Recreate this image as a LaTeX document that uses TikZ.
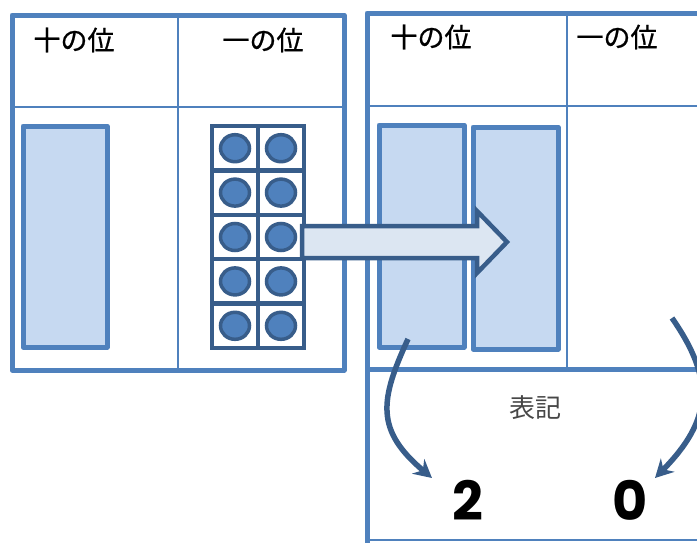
\documentclass[tikz,border=0pt]{standalone}
\usepackage{fontspec}
\setmainfont{Noto Sans CJK JP}
\newfontfamily\hdrfont[FakeBold=0.8]{Noto Sans CJK JP}
\newfontfamily\digitfont{Poppins}
\usetikzlibrary{arrows.meta,shapes.geometric}
\definecolor{midblue}{HTML}{4F81BD}
\definecolor{darkblue}{HTML}{385D8A}
\definecolor{barfill}{HTML}{C6D9F1}
\definecolor{arrowfill}{HTML}{DCE6F2}
\tikzset{
  tablebox/.style={draw=midblue,line width=5pt,line join=round},
  thinline/.style={draw=midblue,line width=2pt},
  tenbar/.style={draw=midblue,fill=barfill,line width=5pt,line join=round,rectangle,inner sep=0pt},
  unitcell/.style={draw=darkblue,fill=white,line width=4.5pt,rectangle,inner sep=0pt,minimum width=46pt,minimum height=44.4pt},
  unitdot/.style={draw=darkblue,fill=midblue,line width=3.5pt,ellipse,inner sep=0pt,minimum width=29pt,minimum height=27pt},
  header/.style={font=\hdrfont\fontsize{27}{29}\selectfont,text=black,inner sep=0pt},
  curvearrow/.style={draw=darkblue,line width=5.5pt,-{Stealth[length=18pt,width=19pt,inset=6pt]}},
}
\begin{document}
\begin{tikzpicture}[x=1pt,y=-1pt]
\useasboundingbox (0,0) rectangle (697,542);
\clip (0,0) rectangle (697,542);
% left table
\draw[thinline] (178,15) -- (178,370);
\draw[thinline] (12,107) -- (344,107);
\draw[tablebox] (12,15) rectangle (344,370);
\node[header] (lten) at (74,40) {十の位};
\node[header] (lone) at (263,40) {一の位};
% right table
\draw[thinline] (567,13) -- (567,369);
\draw[thinline] (367,106) -- (710,106);
\draw[tablebox] (367,13) rectangle (720,369);
\draw[tablebox] (367,369) -- (367,560);
\draw[thinline] (367,540) -- (710,540);
\node[header] (rten) at (431,37) {十の位};
\node[header] (rone) at (617,37) {一の位};
% tens bar on the left
\node[tenbar,minimum width=84pt,minimum height=221pt] (bar0) at (65,236.5) {};
% unit block
\foreach \r in {0,...,4}{
  \foreach \c in {0,1}{
    \node[unitcell] (cell\r\c) at ({235+46*\c},{148.2+44.4*\r}) {};
    \node[unitdot] (dot\r\c) at (cell\r\c) {};
  }
}
% right tens bars
\node[tenbar,minimum width=85pt,minimum height=222pt] (bar1) at (421.5,236) {};
\node[tenbar,minimum width=85pt,minimum height=222pt] (bar2) at (515.5,238) {};
% block arrow
\draw[darkblue,fill=arrowfill,line width=4.5pt,line join=miter]
  (302,226) -- (477,226) -- (477,211) -- (507,242) -- (477,273) -- (477,258) -- (302,258) -- cycle;
% notation
\node[font=\fontsize{26}{28}\selectfont,text=black!72,inner sep=0pt] (hyoki) at (535,408) {表記};
\node[font=\digitfont\bfseries\fontsize{54}{58}\selectfont,inner sep=0pt] (two) at (468,500) {2};
\node[font=\digitfont\bfseries\fontsize{54}{58}\selectfont,inner sep=0pt] (zero) at (630,500) {0};
% curved arrows
\coordinate (s1) at (408,339);
\coordinate (e1) at (432,478);
\coordinate (s2) at (672,318);
\coordinate (e2) at (655,478);
\draw[curvearrow] (s1) .. controls (380,400) and (375,430) .. (e1);
\draw[curvearrow] (s2) .. controls (715,380) and (712,420) .. (e2);
\end{tikzpicture}
\end{document}
